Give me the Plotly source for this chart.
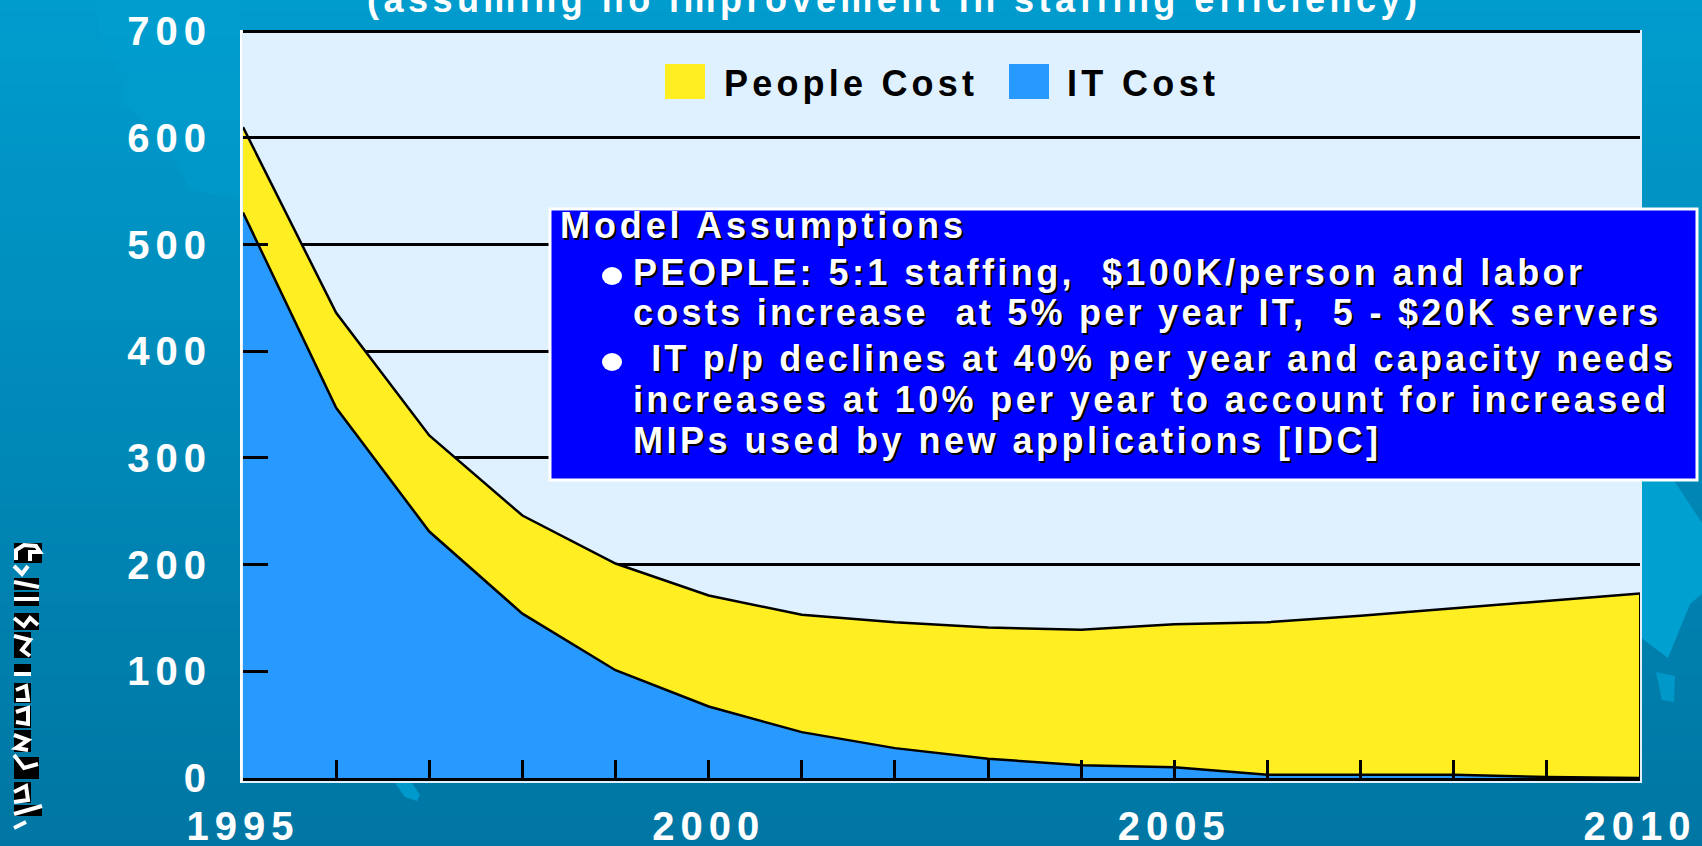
import json
import plotly.graph_objects as go

# data
years = list(range(1995, 2011))
it_cost = [530, 347, 231, 154, 101, 67, 43, 28, 18, 12, 10, 3, 3, 3, 1, 0]
people_cost = [80, 89, 90, 92, 100, 104, 110, 118, 123, 127, 134, 143, 149, 156, 165, 173]
y_ticks = [0, 100, 200, 300, 400, 500, 600, 700]
x_labels = [str(y) if y % 5 == 0 else "" for y in years]

title_text = "(assuming no improvement in staffing efficiency)"
box_title = "Model Assumptions"
box_lines = [
    "PEOPLE: 5:1 staffing,  $100K/person and labor",
    "costs increase  at 5% per year IT,  5 - $20K servers",
    " IT p/p declines at 40% per year and capacity needs",
    "increases at 10% per year to account for increased",
    "MIPs used by new applications [IDC]",
]

YELLOW = "#FFEE22"
BLUE = "#2899FF"
PANEL = "#DFF0FF"
W, H = 1702, 846


def px(x):
    return x / W


def py(y):
    return 1 - y / H


def rect(x0, y0, x1, y1, color, line=None, layer="below"):
    return dict(type="rect", xref="paper", yref="paper", x0=px(x0), x1=px(x1), y0=py(y0), y1=py(y1),
                fillcolor=color, line=line or dict(width=0), layer=layer)


def poly(points, color, opacity=1):
    path = "M" + " L".join(f"{px(a):.5f},{py(b):.5f}" for a, b in points) + " Z"
    return dict(type="path", xref="paper", yref="paper", path=path, fillcolor=color,
                line=dict(width=0), layer="below", opacity=opacity)


shapes = []
# vertical background gradient
steps = 70
for i in range(steps):
    t = i / (steps - 1)
    shapes.append(rect(0, H * i / steps, W, H, f"rgb(0,{156 - 38 * t:.0f},{205 - 42 * t:.0f})"))

# pale map shapes in the background
shapes.append(poly([(95, 0), (100, 40), (125, 85), (120, 100), (165, 140), (190, 190), (240, 200), (240, 0)], "#00A4D4", 0.25))
shapes.append(poly([(1640, 470), (1667, 470), (1702, 523), (1702, 594), (1690, 604), (1668, 658), (1640, 637)], "#00A0D0"))
shapes.append(poly([(1656, 672), (1675, 676), (1674, 702), (1662, 700)], "#0098C8"))
shapes.append(poly([(395, 783), (412, 783), (420, 795), (417, 801), (405, 797)], "#0099CC"))

# plot panel with its pale edge
shapes.append(rect(240, 30, 1642, 783, PANEL))
shapes.append(rect(240, 30, 242, 783, "#FFFFFF"))

# garbled vertical note on the left edge: black blocks with white strokes
blocks = [(543, 563, 42), (578, 590, 39), (592, 606, 39), (613, 630, 39), (632, 658, 31), (664, 673, 31),
          (683, 703, 31), (706, 728, 31), (730, 752, 31), (757, 779, 39), (782, 803, 31), (805, 816, 42)]
strokes = [
    [(16, 560), (16, 550), (24, 545), (36, 546), (40, 552), (30, 552), (30, 561)],
    [(14, 566), (22, 574), (28, 566)],
    [(14, 582), (39, 587)],
    [(14, 599), (39, 599)],
    [(14, 618), (24, 626), (30, 618), (38, 625)],
    [(14, 636), (30, 640), (22, 650), (30, 656)],
    [(14, 674), (31, 674)],
    [(16, 690), (26, 686), (28, 700), (16, 700)],
    [(16, 712), (28, 708), (28, 724), (16, 722)],
    [(14, 735), (28, 740), (16, 748), (28, 750)],
    [(14, 755), (24, 768), (38, 764)],
    [(14, 792), (26, 786), (28, 800), (14, 802)],
    [(14, 814), (42, 806)],
    [(14, 828), (26, 822)],
]
for y0, y1, x1 in blocks:
    shapes.append(rect(14, y0, x1, y1, "#000000"))
for points in strokes:
    path = "M" + " L".join(f"{px(a):.5f},{py(b):.5f}" for a, b in points)
    shapes.append(dict(type="path", xref="paper", yref="paper", path=path, layer="below",
                       line=dict(color="#FFFFFF", width=4)))

# legend swatches, same look as the original slide
shapes.append(rect(665, 64, 705, 99, YELLOW, layer="above"))
shapes.append(rect(1009, 64, 1049, 99, BLUE, layer="above"))

# assumptions box
shapes.append(rect(550, 209, 1697, 480, "#0000FF", dict(color="#FFFFFF", width=3), layer="above"))
for cy in (276, 362):
    shapes.append(dict(type="circle", xref="paper", yref="paper", x0=px(602), x1=px(622), y0=py(cy - 9), y1=py(cy + 9),
                       fillcolor="#FFFFFF", line=dict(width=0), layer="above"))

fig = go.Figure()
fig.add_trace(go.Scatter(x=years, y=it_cost, name="IT Cost", stackgroup="costs", mode="lines",
                         fillcolor=BLUE, line=dict(color="#000000", width=2.5)))
fig.add_trace(go.Scatter(x=years, y=people_cost, name="People Cost", stackgroup="costs", mode="lines",
                         fillcolor=YELLOW, line=dict(color="#000000", width=2.5)))
fig.add_trace(go.Scatter(x=[years[-1], years[-1]], y=[0, it_cost[-1] + people_cost[-1]], mode="lines",
                         line=dict(color="#000000", width=2)))

annotations = []
# (text, left x, baseline y, size, color, shadow, width in pixels)
text_rows = [
    (title_text, 365, 12, 36, "#FFFFFF", None, 1050),
    ("People Cost", 722, 96, 36, "#000000", None, 250),
    ("IT Cost", 1065, 96, 36, "#000000", None, 148),
    (box_title, 558, 238, 36, "#FFFFFF", "2px 2px 0 #000", 403),
    (box_lines[0], 631, 285, 36, "#FFFFFF", "2px 2px 0 #000", 949),
    (box_lines[1], 631, 325, 36, "#FFFFFF", "2px 2px 0 #000", 1025),
    (box_lines[2], 636, 371, 36, "#FFFFFF", "2px 2px 0 #000", 1035),
    (box_lines[3], 631, 412, 36, "#FFFFFF", "2px 2px 0 #000", 1033),
    (box_lines[4], 631, 453, 36, "#FFFFFF", "2px 2px 0 #000", 745),
]
text_widths = {}
for text, x, base, size, color, shadow, width in text_rows:
    font = dict(family="Liberation Sans", size=size, color=color, weight="bold")
    if shadow:
        font["shadow"] = shadow
    annotations.append(dict(text=text, xref="paper", yref="paper", x=px(x), y=py(base - 0.34 * size),
                            xanchor="left", yanchor="middle", align="left", showarrow=False, font=font))
    text_widths[text.strip()] = width

tick_font = dict(family="Liberation Sans", size=40, color="#FFFFFF", weight="bold")
fig.update_layout(
    width=W,
    height=H,
    margin=dict(l=0, r=0, t=0, b=0, autoexpand=False),
    paper_bgcolor="#0090C0",
    plot_bgcolor="rgba(0,0,0,0)",
    showlegend=False,
    shapes=shapes,
    annotations=annotations,
    xaxis=dict(domain=[px(243), px(1640)], range=[years[0], years[-1]], tickmode="array", tickvals=years,
               ticktext=x_labels, ticks="inside", ticklen=18, tickwidth=3, tickcolor="#000000",
               showgrid=False, showline=True, linecolor="#000000", linewidth=3, zeroline=False,
               tickfont=tick_font, ticklabelstandoff=11, tickangle=0),
    yaxis=dict(domain=[py(778), py(29)], range=[0, 702], tickmode="array", tickvals=y_ticks,
               ticks="inside", ticklen=25, tickwidth=3, tickcolor="#000000",
               showgrid=True, gridcolor="#000000", gridwidth=3, zeroline=False, showline=False,
               tickfont=tick_font, ticklabelstandoff=30),
)

# the slide's text is widely letter-spaced, plotly has no setting for it
post_script = """
document.body.style.margin = '0';
var widths = %s;
document.querySelectorAll('.xtick text, .ytick text').forEach(function (t) { t.style.letterSpacing = '6px'; });
document.querySelectorAll('.annotation-text').forEach(function (t) {
    var key = t.textContent.trim();
    if (widths[key]) {
        var gap = (widths[key] - t.getComputedTextLength()) / (t.textContent.length - 1);
        t.style.letterSpacing = gap + 'px';
    }
});
""" % json.dumps(text_widths)

fig.write_html("out.html", post_script=post_script, config={"displayModeBar": False})
